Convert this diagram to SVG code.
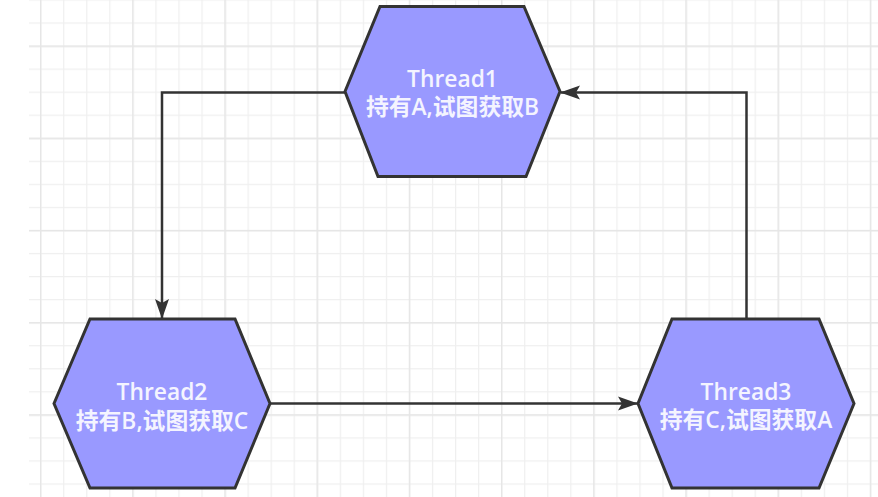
<svg xmlns="http://www.w3.org/2000/svg" width="878" height="497" viewBox="0 0 878 497">
  <defs>
    <pattern id="minor" x="40.1" y="-0.6" width="23.05" height="23.05" patternUnits="userSpaceOnUse">
      <path d="M0 0.6H23.05M0.6 0V23.05" fill="none" stroke="#efefef" stroke-width="1.2"/>
    </pattern>
    <pattern id="major" x="40" y="45.5" width="92.2" height="92.2" patternUnits="userSpaceOnUse">
      <path d="M0 0.7H92.2M0.7 0V92.2" fill="none" stroke="#e6e6e6" stroke-width="1.4"/>
    </pattern>
    <marker id="arrow" viewBox="0 0 20 15" refX="19" refY="7.5" markerWidth="20" markerHeight="15" markerUnits="userSpaceOnUse" orient="auto">
      <path d="M0 0.5L20 7.5L0 14.5L4 7.5Z" fill="#333333"/>
    </marker>
  </defs>
  <style>
    .hex { fill: #9999ff; stroke: #333333; stroke-width: 3; stroke-linejoin: miter; }
    .lbl { font-family: "Open Sans", "Noto Sans CJK SC", sans-serif; font-size: 22.8px; font-weight: 600; fill: #f4f4ff; text-anchor: middle; }
    .edge { fill: none; stroke: #333333; stroke-width: 2.5; marker-end: url(#arrow); }
  </style>
  <rect width="878" height="497" fill="#ffffff"/>
  <rect x="29" y="0" width="849" height="497" fill="url(#minor)"/>
  <rect x="29" y="0" width="849" height="497" fill="url(#major)"/>

  <g id="connectors">
    <path class="edge" d="M345 92.5H162V318"/>
    <path class="edge" d="M270 403.5H637"/>
    <path class="edge" d="M746.5 319V92.5H561"/>
  </g>

  <g id="thread1">
    <polygon class="hex" points="345,91.5 380,6.5 524,6.5 560,91.5 526,176.5 378,176.5"/>
    <text class="lbl" x="452.5" y="87">Thread1</text>
    <text class="lbl" x="452.5" y="115">持有A,试图获取B</text>
  </g>
  <g id="thread2">
    <polygon class="hex" points="54,403.5 90,319 235,319 270,403.5 235,488 90,488"/>
    <text class="lbl" x="162" y="399.5">Thread2</text>
    <text class="lbl" x="162" y="428.5">持有B,试图获取C</text>
  </g>
  <g id="thread3">
    <polygon class="hex" points="638,403.5 672,319 819,319 854,403.5 819,488 672,488"/>
    <text class="lbl" x="746" y="399.5">Thread3</text>
    <text class="lbl" x="746" y="428">持有C,试图获取A</text>
  </g>
</svg>
